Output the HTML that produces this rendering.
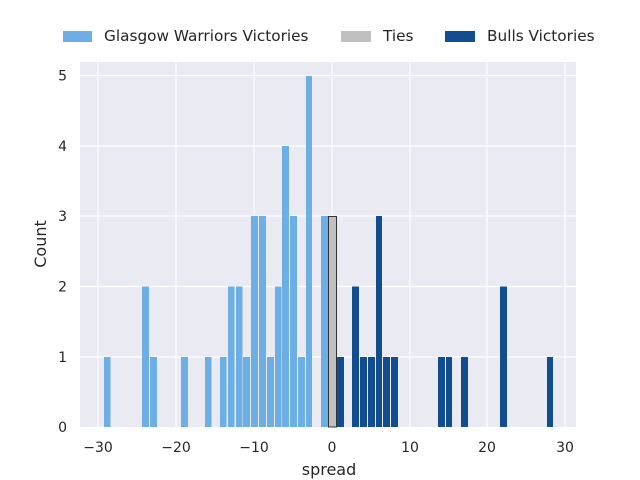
<!DOCTYPE html>
<html><head><meta charset="utf-8"><style>
body{margin:0;background:#fff;}
svg{display:block;font-family:"DejaVu Sans","Liberation Sans",sans-serif;}
</style></head><body>
<svg width="640" height="480" viewBox="0 0 640 480" xmlns="http://www.w3.org/2000/svg">
<rect x="80" y="62" width="496" height="365" fill="#eaeaf2"/>
<g stroke="#fff" stroke-width="1.2">
<line x1="98" y1="62" x2="98" y2="427"/><line x1="176" y1="62" x2="176" y2="427"/>
<line x1="254" y1="62" x2="254" y2="427"/><line x1="332" y1="62" x2="332" y2="427"/>
<line x1="410" y1="62" x2="410" y2="427"/><line x1="487" y1="62" x2="487" y2="427"/>
<line x1="565" y1="62" x2="565" y2="427"/>
<line x1="80" y1="357" x2="576" y2="357"/><line x1="80" y1="286.5" x2="576" y2="286.5"/>
<line x1="80" y1="216" x2="576" y2="216"/><line x1="80" y1="146" x2="576" y2="146"/>
<line x1="80" y1="75.5" x2="576" y2="75.5"/>
</g>
<g fill="#6daee4">
<rect x="104" y="357" width="6.5" height="70"/>
<rect x="142" y="286.5" width="7" height="140.5"/>
<rect x="150" y="357" width="7" height="70"/>
<rect x="181" y="357" width="7" height="70"/>
<rect x="205" y="357" width="6.5" height="70"/>
<rect x="220" y="357" width="6.5" height="70"/>
<rect x="228" y="286.5" width="6.5" height="140.5"/>
<rect x="236" y="286.5" width="6.5" height="140.5"/>
<rect x="243" y="357" width="7" height="70"/>
<rect x="251" y="216" width="7" height="211"/>
<rect x="259" y="216" width="7" height="211"/>
<rect x="267" y="357" width="7" height="70"/>
<rect x="275" y="286.5" width="6.5" height="140.5"/>
<rect x="282" y="146" width="7" height="281"/>
<rect x="290" y="216" width="7" height="211"/>
<rect x="298" y="357" width="7" height="70"/>
<rect x="306" y="76" width="6" height="351"/>
<rect x="321" y="216" width="7" height="211"/>
</g>
<rect x="328.5" y="216.5" width="8" height="210.5" fill="#c0c0c0" stroke="#333" stroke-width="1"/>
<g fill="#114d8f">
<rect x="337" y="357" width="7" height="70"/>
<rect x="352" y="286.5" width="7" height="140.5"/>
<rect x="360" y="357" width="7" height="70"/>
<rect x="368" y="357" width="7" height="70"/>
<rect x="376" y="216" width="6" height="211"/>
<rect x="383" y="357" width="7" height="70"/>
<rect x="391" y="357" width="7" height="70"/>
<rect x="438" y="357" width="7" height="70"/>
<rect x="446" y="357" width="6" height="70"/>
<rect x="461" y="357" width="7" height="70"/>
<rect x="500" y="286.5" width="7" height="140.5"/>
<rect x="547" y="357" width="6" height="70"/>
</g>
<g font-size="14" fill="#262626">
<g text-anchor="end">
<text x="67" y="432">0</text><text x="67" y="362">1</text><text x="67" y="291.5">2</text>
<text x="67" y="221">3</text><text x="67" y="151">4</text><text x="67" y="80.5">5</text>
</g>
<g text-anchor="middle">
<text x="98" y="452">−30</text><text x="176" y="452">−20</text><text x="254" y="452">−10</text>
<text x="332" y="452">0</text><text x="410" y="452">10</text><text x="487" y="452">20</text><text x="565" y="452">30</text>
<text x="329" y="475" font-size="16">spread</text>
<text transform="translate(46,244) rotate(-90)" font-size="16">Count</text>
</g>
<g font-size="15.3">
<rect x="63" y="31" width="29" height="11" fill="#6daee4"/>
<text x="104" y="41">Glasgow Warriors Victories</text>
<rect x="341" y="31" width="30" height="11" fill="#c0c0c0"/>
<text x="383" y="41">Ties</text>
<rect x="445" y="31" width="30" height="11" fill="#114d8f"/>
<text x="487" y="41">Bulls Victories</text>
</g>
</g>
</svg>
</body></html>
